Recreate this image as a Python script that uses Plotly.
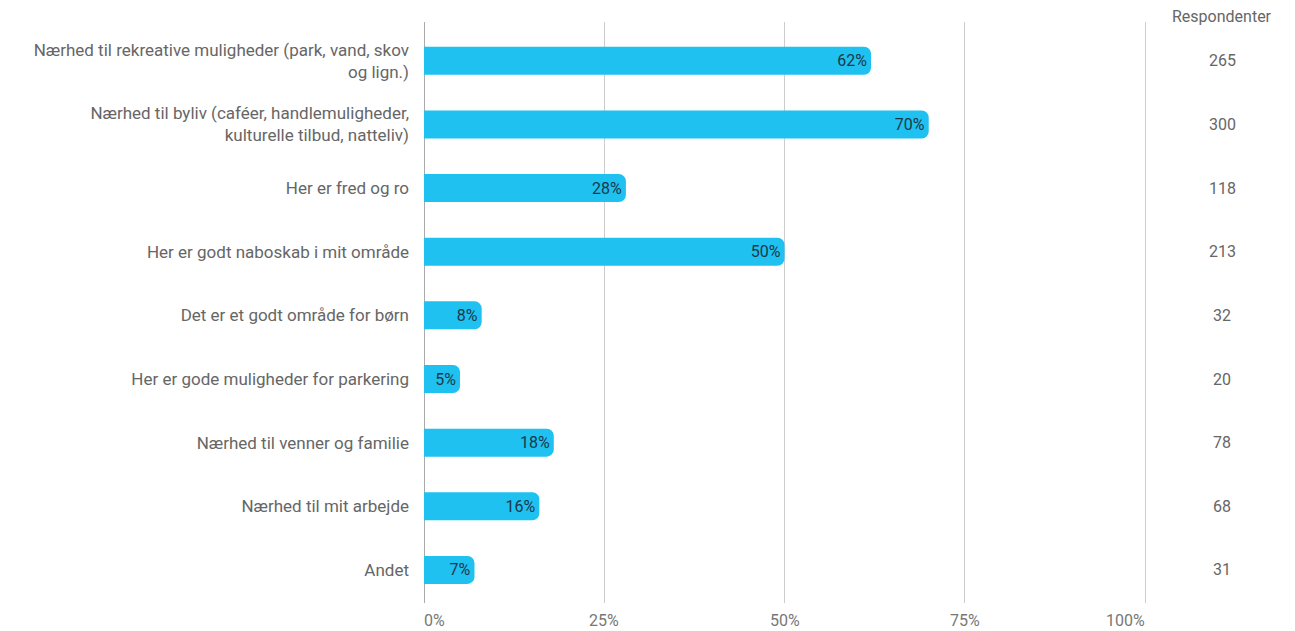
import plotly.graph_objects as go

categories = [
    "Nærhed til rekreative muligheder (park, vand, skov<br>og lign.)",
    "Nærhed til byliv (caféer, handlemuligheder,<br>kulturelle tilbud, natteliv)",
    "Her er fred og ro",
    "Her er godt naboskab i mit område",
    "Det er et godt område for børn",
    "Her er gode muligheder for parkering",
    "Nærhed til venner og familie",
    "Nærhed til mit arbejde",
    "Andet",
]
percent = [62, 70, 28, 50, 8, 5, 18, 16, 7]
respondents = [265, 300, 118, 213, 32, 20, 78, 68, 31]
tick_vals = [0, 25, 50, 75, 100]
tick_text = ["0%", "25%", "50%", "75%", "100%"]

ypos = list(range(len(categories)))

fig = go.Figure()
fig.add_trace(go.Bar(
    x=percent, y=ypos, orientation="h",
    marker=dict(color="#1FC1F1", cornerradius=7, line=dict(width=0)),
    width=0.44,
    text=[f"{p}%" for p in percent],
    textposition="inside", insidetextanchor="end",
    textfont=dict(family="Roboto", size=16, color="#1B3848"),
    hoverinfo="skip",
))

# respondent column
for yv, r in zip(ypos, respondents):
    fig.add_annotation(x=110.7, y=yv, text=str(r), showarrow=False,
                       xref="x", yref="y",
                       font=dict(family="Roboto", size=16, color="#666666"))
fig.add_annotation(x=110.7, y=1.0, yref="paper", yanchor="bottom", text="Respondenter",
                   showarrow=False, yshift=-6,
                   font=dict(family="Roboto", size=16, color="#666666"))

# x tick labels
anchors = ["left", "center", "center", "center", "right"]
shifts = [-2, 0, 0, 0, 2]
for tv, tt, an, sh in zip(tick_vals, tick_text, anchors, shifts):
    fig.add_annotation(x=tv, y=0, yref="paper", yanchor="top", xanchor=an, xshift=sh,
                       yshift=-6, text=tt, showarrow=False,
                       font=dict(family="Roboto", size=16, color="#777777"))

fig.update_layout(
    width=1287, height=623,
    margin=dict(l=416, r=0, t=14, b=28),
    plot_bgcolor="white", paper_bgcolor="white",
    showlegend=False, bargap=0.5,
    font=dict(family="Roboto", size=17, color="#666666"),
)
fig.update_xaxes(range=[0, 120.8], tickvals=tick_vals, ticktext=["", "", "", "", ""],
                 showgrid=True, gridcolor="#CCCCCC", gridwidth=1.3,
                 zeroline=True, zerolinecolor="#AAAAAA", zerolinewidth=1.3,
                 showline=False, fixedrange=True)
fig.update_yaxes(range=[8.52, -0.61], tickvals=ypos, ticktext=categories,
                 showgrid=False, zeroline=False, showline=False, ticks="",
                 ticklabelstandoff=14,
                 tickfont=dict(family="Roboto", size=17, color="#666666"))

fig.write_html("out.html")
